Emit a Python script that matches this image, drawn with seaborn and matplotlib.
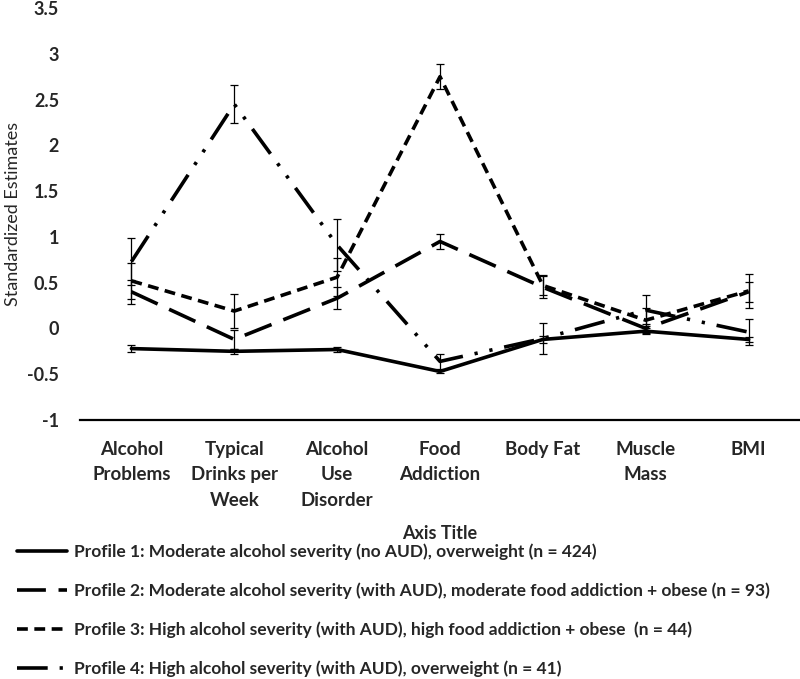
import numpy as np
import pandas as pd
import matplotlib
matplotlib.use("Agg")
import matplotlib.pyplot as plt
from matplotlib.lines import Line2D
import seaborn as sns

categories = ["Alcohol\nProblems", "Typical\nDrinks per\nWeek", "Alcohol\nUse\nDisorder",
              "Food\nAddiction", "Body Fat", "Muscle\nMass", "BMI"]

profiles = [
    "Profile 1: Moderate alcohol severity (no AUD), overweight (n = 424)",
    "Profile 2: Moderate alcohol severity (with AUD), moderate food addiction + obese (n = 93)",
    "Profile 3: High alcohol severity (with AUD), high food addiction + obese  (n = 44)",
    "Profile 4: High alcohol severity (with AUD), overweight (n = 41)",
]

# standardized estimates per profile
p1 = [-0.22, -0.25, -0.23, -0.47, -0.12, -0.03, -0.12]
p2 = [0.40, -0.12, 0.33, 0.95, 0.45, 0.00, 0.40]
p3 = [0.52, 0.19, 0.56, 2.75, 0.47, 0.09, 0.41]
p4 = [0.73, 2.45, 0.91, -0.36, -0.11, 0.20, -0.04]

# error bar half widths
e1 = [0.04, 0.03, 0.03, 0.02, 0.04, 0.03, 0.03]
e2 = [0.13, 0.10, 0.12, 0.08, 0.12, 0.05, 0.11]
e3 = [0.20, 0.19, 0.21, 0.14, 0.11, 0.13, 0.19]
e4 = [0.26, 0.21, 0.28, 0.08, 0.17, 0.17, 0.14]

yticks = [-1, -0.5, 0, 0.5, 1, 1.5, 2, 2.5, 3, 3.5]

values = [p1, p2, p3, p4]
errors = [e1, e2, e3, e4]

df = pd.DataFrame({
    "category": categories * len(profiles),
    "estimate": sum(values, []),
    "err": sum(errors, []),
    "profile": [p for p in profiles for _ in categories],
})

# dash patterns: solid, long dash, short dash, long dash dot dot
dash_map = {
    profiles[0]: "",
    profiles[1]: (8, 3.5),
    profiles[2]: (3, 1.8),
    profiles[3]: (8.5, 3.3, 0.9, 3.3, 0.9, 3.3),
}

sns.set_style("white")
plt.rcParams["font.family"] = ["Lato", "DejaVu Sans"]
plt.rcParams["axes.unicode_minus"] = False

fig = plt.figure(figsize=(8, 6.79), dpi=100)
ax = fig.add_axes([0.1, 1 - 420 / 679, 0.9, 412 / 679])

lw = 2.6
sns.lineplot(data=df, x="category", y="estimate", style="profile", dashes=dash_map,
             color="black", linewidth=lw, sort=False, legend=False, ax=ax)

for prof in profiles:
    sub = df[df["profile"] == prof]
    ax.errorbar(sub["category"], sub["estimate"], yerr=sub["err"], fmt="none",
                ecolor="black", elinewidth=0.9, capsize=2.8, capthick=0.9, zorder=3)

ax.set_xlim(-0.5, 6.5)
ax.set_ylim(-1, 3.5)
ax.set_yticks(yticks)
ax.set_yticklabels([f"{v:g}" for v in yticks], fontsize=13, fontweight="bold")
ax.set_xticks(range(len(categories)))
ax.set_xticklabels(categories, fontsize=13.5, fontweight="bold", linespacing=1.6)
ax.tick_params(axis="y", length=0, pad=15)
ax.tick_params(axis="x", length=0, pad=15)

for side in ["left", "right", "top"]:
    ax.spines[side].set_visible(False)
ax.spines["bottom"].set_color("black")
ax.spines["bottom"].set_linewidth(1.6)

ax.set_ylabel("Standardized Estimates", fontsize=13)
ax.yaxis.set_label_coords(-0.082, 0.5)
ax.set_xlabel("Axis Title", fontsize=13, fontweight="bold")
ax.xaxis.set_label_coords(0.5, -0.255)

handles = [Line2D([], [], color="black", linewidth=lw,
                  dashes=(dash_map[p] if dash_map[p] else (None, None)))
           for p in profiles]
handles[0] = Line2D([], [], color="black", linewidth=lw, linestyle="-")
fig.legend(handles, profiles, loc="upper left", bbox_to_anchor=(0.021, 0.199),
           frameon=False, prop={"size": 12.5, "weight": "bold"},
           handlelength=2.9, handletextpad=0.4, labelspacing=1.28,
           borderaxespad=0, borderpad=0)

fig.savefig("out.png", dpi=100)
